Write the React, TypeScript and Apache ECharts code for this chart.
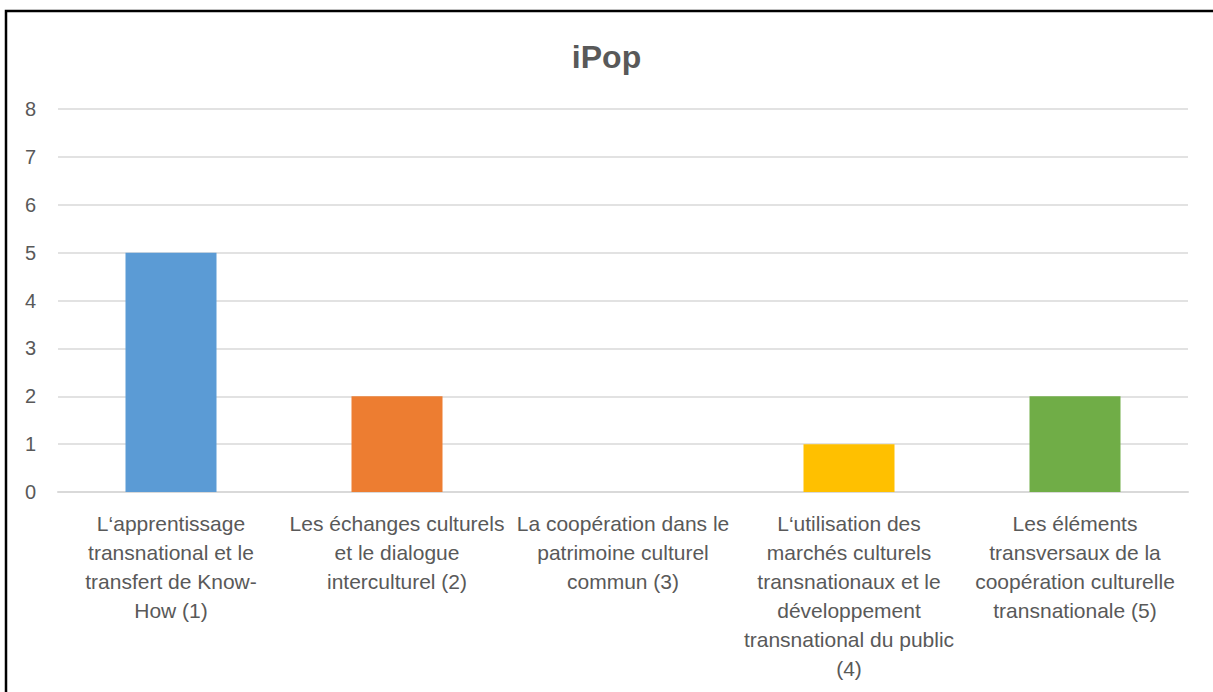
import React, { useEffect, useRef } from "react";
import * as echarts from "echarts";

const title = "iPop";
const categories = [
  "L‘apprentissage\ntransnational et le\ntransfert de Know-\nHow (1)",
  "Les échanges culturels\net le dialogue\ninterculturel (2)",
  "La coopération dans le\npatrimoine culturel\ncommun (3)",
  "L‘utilisation des\nmarchés culturels\ntransnationaux et le\ndéveloppement\ntransnational du public\n(4)",
  "Les éléments\ntransversaux de la\ncoopération culturelle\ntransnationale (5)",
];
const values = [5, 2, 0, 1, 2];
const barColors = ["#5B9BD5", "#ED7D31", "#A5A5A5", "#FFC000", "#70AD47"];

export default function App() {
  const ref = useRef<HTMLDivElement>(null);
  useEffect(() => {
    if (!ref.current) return;
    const chart = echarts.init(ref.current, null, { renderer: "svg" });
    const font = "'Liberation Sans', Arial, sans-serif";
    chart.setOption({
      animation: false,
      backgroundColor: "#ffffff",
      title: {
        text: title,
        left: "center",
        top: 36,
        textStyle: { color: "#595959", fontSize: 32, fontWeight: "bold", fontFamily: font },
      },
      grid: { left: 58, right: 25, top: 109, bottom: 200, containLabel: false },
      xAxis: {
        type: "category",
        data: categories,
        axisLine: { show: true, lineStyle: { color: "#D9D9D9", width: 2 } },
        axisTick: { show: false },
        axisLabel: {
          interval: 0,
          color: "#595959",
          fontSize: 21,
          fontFamily: font,
          lineHeight: 29,
          margin: 17,
          align: "center",
        },
      },
      yAxis: {
        type: "value",
        min: 0,
        max: 8,
        interval: 1,
        axisLine: { show: false },
        axisTick: { show: false },
        splitLine: { lineStyle: { color: "#D9D9D9", width: 1.5 } },
        axisLabel: { color: "#595959", fontSize: 20, fontFamily: font, margin: 22 },
      },
      series: [
        {
          type: "bar",
          barWidth: 91,
          data: values.map((v, i) => ({ value: v, itemStyle: { color: barColors[i] } })),
        },
      ],
      graphic: [
        {
          type: "rect",
          shape: { x: 6, y: 11, width: 1400, height: 900 },
          style: { fill: "none", stroke: "#000000", lineWidth: 2.5 },
          silent: true,
          z: 100,
        },
      ],
    });
    return () => chart.dispose();
  }, []);
  return (
    <div
      ref={ref}
      style={{ position: "fixed", left: 0, top: 0, width: 1213, height: 692 }}
    />
  );
}
